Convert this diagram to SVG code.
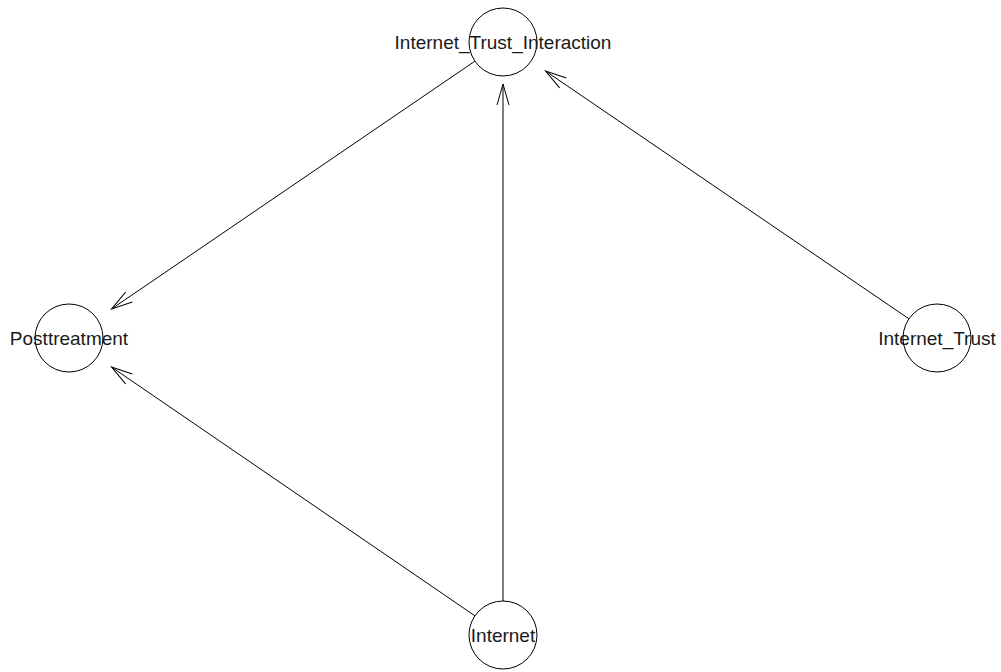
<svg xmlns="http://www.w3.org/2000/svg" width="1001" height="672" viewBox="0 0 1001 672">
  <style>
    .node circle { fill: none; stroke: #000; stroke-width: 1; }
    .node text { font-family: "Liberation Sans", Arial, sans-serif; font-size: 19px; fill: #1a1a1a; text-anchor: middle; }
    .edge { stroke: #000; stroke-width: 1; fill: none; marker-end: url(#arrow); }
  </style>
  <defs>
    <marker id="arrow" markerUnits="userSpaceOnUse" markerWidth="30" markerHeight="20" viewBox="-24 -10 30 20" refX="0" refY="0" orient="auto">
      <path d="M -21,-6 L 0,0 L -21,6" fill="none" stroke="#000" stroke-width="1"/>
    </marker>
  </defs>
  <rect width="1001" height="672" fill="#fff"/>

  <g id="connectors">
    <line class="edge" x1="474.9" y1="61.2" x2="111.6" y2="308.9"/>
    <line class="edge" x1="474.9" y1="615.8" x2="111.6" y2="367.1"/>
    <line class="edge" x1="503" y1="601" x2="503" y2="84"/>
    <line class="edge" x1="908.9" y1="318.8" x2="545.6" y2="71.1"/>
  </g>

  <g id="node-internet-trust-interaction" class="node">
    <circle cx="503" cy="42" r="34"/>
    <text x="503" y="49">Internet_Trust_Interaction</text>
  </g>
  <g id="node-posttreatment" class="node">
    <circle cx="69" cy="338" r="34"/>
    <text x="69" y="345">Posttreatment</text>
  </g>
  <g id="node-internet-trust" class="node">
    <circle cx="937" cy="338" r="34"/>
    <text x="937" y="345">Internet_Trust</text>
  </g>
  <g id="node-internet" class="node">
    <circle cx="503" cy="635" r="34"/>
    <text x="503" y="642">Internet</text>
  </g>
</svg>
